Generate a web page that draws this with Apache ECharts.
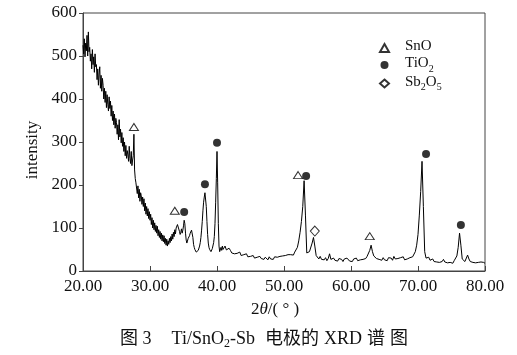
<!DOCTYPE html>
<html><head><meta charset="utf-8">
<script src="https://cdn.jsdelivr.net/npm/echarts@6/dist/echarts.min.js"></script>
<style>html,body{margin:0;padding:0;background:#fff}#c{width:517px;height:355px}</style>
</head><body><div id="c"></div>
<script>
// Fine scan segment: 2θ 20.0–40.9, step 0.1 (one row per degree)
const fineStart = 20, fineStep = 0.1;
const fineIntensity = [
  525, 505, 540, 498, 530, 512, 548, 500, 556, 510,
  520, 488, 505, 470, 515, 480, 498, 462, 505, 475,
  480, 445, 470, 432, 458, 475, 425, 455, 418, 448,
  432, 400, 425, 392, 418, 380, 410, 388, 372, 405,
  378, 395, 360, 385, 350, 372, 340, 365, 332, 355,
  345, 318, 340, 305, 352, 312, 330, 298, 322, 290,
  310, 278, 300, 268, 292, 262, 280, 270, 255, 290,
  262, 250, 278, 245, 258, 268, 318, 235, 215, 205,
  205, 180, 198, 170, 190, 162, 182, 175, 155, 172,
  150, 168, 140, 158, 132, 150, 128, 145, 122, 138,
  118, 132, 108, 124, 100, 118, 96, 112, 92, 106,
  88, 104, 82, 96, 78, 92, 74, 88, 70, 84,
  68, 82, 64, 76, 60, 74, 58, 70, 62, 76,
  66, 80, 70, 86, 74, 90, 80, 96, 86, 100,
  100, 108, 112, 104, 92, 85, 90, 98, 88, 95,
  105, 118, 110, 88, 72, 65, 68, 76, 72, 82,
  88, 85, 95, 92, 78, 62, 55, 50, 46, 44,
  42, 45, 48, 52, 58, 66, 78, 95, 115, 140,
  160, 172, 182, 178, 150, 115, 85, 65, 55, 50,
  48, 45, 46, 52, 56, 66, 80, 110, 160, 215,
  278, 205, 110, 58, 45, 42, 55, 48, 58, 50
];
// Coarse segment: 2θ 41.0–80.0, step 0.2 (one row per degree)
const coarseStart = 41, coarseStep = 0.2;
const coarseIntensity = [
  52, 58, 49, 47, 53,
  48, 42, 46, 40, 44,
  41, 38, 44, 36, 40,
  38, 35, 40, 33, 37,
  34, 31, 36, 30, 33,
  32, 28, 34, 29, 31,
  27, 32, 29, 26, 33,
  28, 31, 27, 33, 29,
  32, 28, 34, 30, 35,
  31, 36, 33, 38, 35,
  38, 41, 37, 44, 48,
  55, 70, 90, 115, 150,
  210, 130, 42, 38, 45,
  48, 65, 78, 58, 36,
  32, 28, 34, 27, 30,
  26, 31, 24, 29, 40,
  27, 24, 30, 25, 28,
  23, 29, 25, 27, 22,
  28, 24, 30, 26, 23,
  27, 22, 28, 25, 30,
  24, 28, 26, 30, 27,
  31, 29, 34, 38, 48,
  60, 45, 35, 32, 29,
  33, 27, 30, 25, 31,
  26, 29, 24, 31, 27,
  30, 25, 34, 28, 24,
  29, 26, 31, 27, 33,
  26, 30, 28, 25, 31,
  29, 33, 36, 45, 60,
  85, 130, 185, 255, 150,
  45, 30, 27, 32, 25,
  24, 28, 22, 26, 21,
  25, 20, 24, 22, 27,
  21, 24, 19, 23, 20,
  22, 18, 24, 21, 35,
  55, 88, 60, 28, 24,
  22, 26, 37, 28, 22,
  24, 20, 23, 19, 22,
  20, 17, 21, 18, 20,
  18
];
const twoTheta = fineIntensity.map((_, i) => +(fineStart + i * fineStep).toFixed(1))
  .concat(coarseIntensity.map((_, i) => +(coarseStart + i * coarseStep).toFixed(1)));
const intensity = fineIntensity.concat(coarseIntensity);

// Phase markers [2θ, intensity]
const snoMarks = [[27.6, 335], [33.7, 140], [52.1, 223], [62.8, 81]];
const tio2Marks = [[35.1, 137], [38.2, 202], [40.0, 298], [53.3, 221], [71.2, 272], [76.4, 107]];
const sb2o5Marks = [[54.6, 93]];

const xTicks = { min: 20, max: 80, interval: 10 };
const yTicks = { min: 0, max: 600, interval: 100 };

const serif = '"Liberation Serif", "Times New Roman", serif';
const cjk = '"Liberation Serif", "Noto Sans CJK SC", serif';
const chart = echarts.init(document.getElementById('c'), null, { renderer: 'canvas' });

const legendNames = { SnO: '{n|SnO}', TiO2: '{n|TiO}{s|2}', Sb2O5: '{n|Sb}{s|2}{n|O}{s|5}' };

chart.setOption({
  animation: false,
  backgroundColor: '#fff',
  grid: { left: 83, right: 32, top: 13, bottom: 84, show: true, borderColor: '#444', borderWidth: 1 },
  xAxis: {
    type: 'value', min: xTicks.min, max: xTicks.max, interval: xTicks.interval,
    axisLine: { lineStyle: { color: '#444', width: 1 } },
    axisTick: { inside: true, length: 5, lineStyle: { color: '#444' } },
    splitLine: { show: false },
    axisLabel: { formatter: v => v.toFixed(2), color: '#111', fontFamily: serif, fontSize: 17, margin: 7 },
    name: '2{i|θ}/( ° )', nameLocation: 'middle', nameGap: 30,
    nameTextStyle: { color: '#111', fontFamily: serif, fontSize: 17, padding: [0, 18, 0, 0],
      rich: { i: { fontStyle: 'italic', fontFamily: serif, fontSize: 17, color: '#111' } } }
  },
  yAxis: {
    type: 'value', min: yTicks.min, max: yTicks.max, interval: yTicks.interval,
    axisLine: { show: true, lineStyle: { color: '#444', width: 1 } },
    axisTick: { show: true, inside: false, length: 4, lineStyle: { color: '#444' } },
    splitLine: { show: false },
    axisLabel: { color: '#111', fontFamily: serif, fontSize: 17, margin: 6 },
    name: 'intensity', nameLocation: 'middle', nameGap: 37,
    nameTextStyle: { color: '#111', fontFamily: serif, fontSize: 17, padding: [0, 16, 0, 0] }
  },
  legend: {
    orient: 'vertical', left: 374, top: 34, itemWidth: 9, itemHeight: 8, itemGap: 0.5,
    data: ['SnO', 'TiO2', 'Sb2O5'],
    formatter: name => '{p|}' + legendNames[name],
    textStyle: {
      color: '#111', fontFamily: serif, fontSize: 15,
      rich: {
        p: { width: 11, height: 18 },
        n: { fontFamily: serif, fontSize: 15, color: '#111', lineHeight: 15, verticalAlign: 'top' },
        s: { fontFamily: serif, fontSize: 10, color: '#111', lineHeight: 10, verticalAlign: 'bottom', padding: [8, 0, 0, 0] }
      }
    }
  },
  series: [
    { type: 'line', name: 'XRD', data: twoTheta.map((t, i) => [t, intensity[i]]), showSymbol: false,
      lineStyle: { color: '#000', width: 1 }, z: 2 },
    { type: 'scatter', name: 'SnO', data: snoMarks, symbol: 'triangle', symbolSize: [9, 7],
      itemStyle: { color: '#fff', borderColor: '#000', borderWidth: 1 }, z: 3 },
    { type: 'scatter', name: 'TiO2', data: tio2Marks, symbol: 'circle', symbolSize: 8,
      itemStyle: { color: '#000' }, z: 3 },
    { type: 'scatter', name: 'Sb2O5', data: sb2o5Marks, symbol: 'diamond', symbolSize: [9, 10],
      itemStyle: { color: '#fff', borderColor: '#000', borderWidth: 1 }, z: 3 }
  ],
  graphic: [{
    type: 'text', x: 264, y: 330,
    style: {
      align: 'center',
      text: '{c|图 3}{g|}{n|Ti/SnO}{s|2}{n|-Sb}{h|}{c|电极的}{k|}{n|XRD}{k|}{c|谱}{k|}{c|图}',
      rich: {
        c: { fontFamily: cjk, fontSize: 18, fill: '#111', lineHeight: 20, verticalAlign: 'top' },
        g: { width: 20 },
        h: { width: 10 },
        k: { width: 5 },
        n: { fontFamily: serif, fontSize: 18, fill: '#111', lineHeight: 20, verticalAlign: 'top' },
        s: { fontFamily: serif, fontSize: 12, fill: '#111', lineHeight: 12, verticalAlign: 'bottom', padding: [9, 0, 0, 0] }
      }
    }
  }]
});
</script></body></html>
